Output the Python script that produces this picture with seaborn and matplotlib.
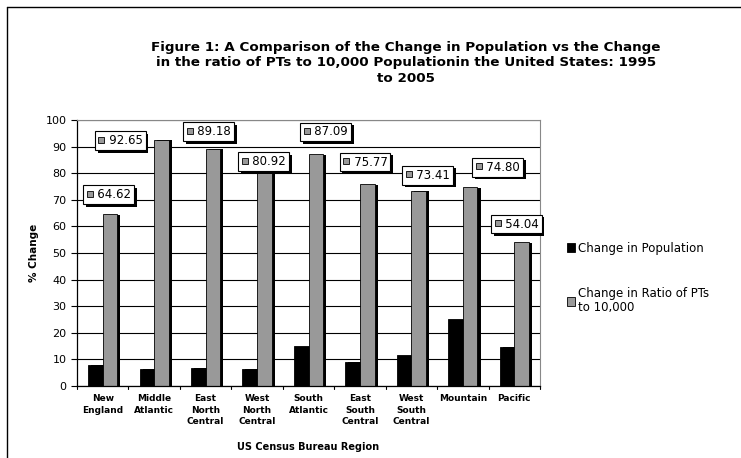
import numpy as np
import pandas as pd
import matplotlib
matplotlib.use('Agg')
import matplotlib.pyplot as plt
import matplotlib.patheffects as pe
from matplotlib.transforms import offset_copy
import seaborn as sns

regions = ['New\nEngland', 'Middle\nAtlantic', 'East\nNorth\nCentral', 'West\nNorth\nCentral',
           'South\nAtlantic', 'East\nSouth\nCentral', 'West\nSouth\nCentral', 'Mountain', 'Pacific']
pop_change = [8.0, 6.5, 6.9, 6.5, 15.1, 9.1, 11.7, 25.2, 14.8]
ratio_change = [64.62, 92.65, 89.18, 80.92, 87.09, 75.77, 73.41, 74.80, 54.04]
series_names = ['Change in Population', 'Change in Ratio of PTs\nto 10,000']

# where the data label boxes sit (category offset, y value)
label_dx = [0.11, -0.66, 0.06, 0.13, 0.33, 0.10, 0.31, 0.68, 0.04]
label_y = [72.0, 92.3, 95.7, 84.4, 95.5, 84.2, 79.3, 82.3, 60.9]

df = pd.DataFrame({
    'region': regions * 2,
    'value': pop_change + ratio_change,
    'series': [series_names[0]] * len(regions) + [series_names[1]] * len(regions),
})

sns.set_style('white')
plt.rcParams['font.family'] = ['DejaVu Sans']
plt.rcParams['text.color'] = 'black'
plt.rcParams['axes.labelcolor'] = 'black'
plt.rcParams['xtick.color'] = 'black'
plt.rcParams['ytick.color'] = 'black'

fig = plt.figure(figsize=(7.41, 4.58), dpi=100)
ax = fig.add_axes([77 / 741, 1 - 386 / 458, (540 - 77) / 741, (386 - 120) / 458])

sns.barplot(data=df, x='region', y='value', hue='series', palette=['black', '#999999'],
            width=0.57, edgecolor='black', linewidth=0.6, saturation=1, ax=ax)

shadow = [pe.SimplePatchShadow(offset=(2.2, -0.5), shadow_rgbFace='black', alpha=1), pe.Normal()]
for p in ax.patches:
    p.set_path_effects(shadow)

ax.set_ylim(0, 100)
ax.set_xlim(-0.5, len(regions) - 0.5)
ax.set_yticks(np.arange(0, 101, 10))
ax.yaxis.grid(True, color='black', linewidth=0.8)
ax.set_axisbelow(True)
ax.set_xticks(np.arange(len(regions)))
ax.set_xticklabels(regions, fontsize=6.5, fontweight='bold', linespacing=1.35)
ax.tick_params(axis='x', length=0, pad=6)
ax.tick_params(axis='y', labelsize=8, length=4, direction='out', left=True, color='black')
for pos in np.arange(-0.5, len(regions), 1):
    ax.plot([pos, pos], [0, -1.2], color='black', linewidth=0.8, clip_on=False)
for s in ['left', 'bottom']:
    ax.spines[s].set_color('black')
    ax.spines[s].set_linewidth(0.9)
for s in ['top', 'right']:
    ax.spines[s].set_color('#888888')
    ax.spines[s].set_linewidth(0.8)

ax.set_xlabel('US Census Bureau Region', fontsize=7, fontweight='bold', labelpad=11)
ax.set_ylabel('% Change', fontsize=7.5, fontweight='bold', labelpad=5)

# data labels with boxed shadow and a small gray key
for i, v in enumerate(ratio_change):
    x = i + label_dx[i]
    t = ax.text(x, label_y[i], '   %.2f' % v, ha='center', va='center', fontsize=8.5,
                bbox=dict(boxstyle='square,pad=0.25', facecolor='white', edgecolor='black', linewidth=0.8),
                zorder=6)
    t.get_bbox_patch().set_path_effects(
        [pe.SimplePatchShadow(offset=(2, -2), shadow_rgbFace='black', alpha=1), pe.Normal()])
    tr = offset_copy(ax.transData, fig=fig, x=-13.5, y=0.5, units='points')
    ax.plot([x], [label_y[i]], marker='s', markersize=5, markerfacecolor='#999999',
            markeredgecolor='black', markeredgewidth=0.6, transform=tr, zorder=7, clip_on=False)

handles, labels = ax.get_legend_handles_labels()
for h in handles:
    h.set_path_effects([])
ax.legend(handles, labels, loc='upper left', bbox_to_anchor=(556 / 741, 1 - 231 / 458),
          bbox_transform=fig.transFigure, frameon=False, fontsize=8.5,
          handlelength=0.75, handleheight=0.75, handletextpad=0.25, labelspacing=2.7)

fig.text(406 / 741, 1 - 63 / 458,
         'Figure 1: A Comparison of the Change in Population vs the Change\n'
         'in the ratio of PTs to 10,000 Populationin the United States: 1995\n'
         'to 2005', ha='center', va='center', fontsize=9.7, fontweight='bold', linespacing=1.25)

# outer border (top and left only)
fig.add_artist(plt.Line2D([7 / 741, 1], [1 - 7 / 458, 1 - 7 / 458], color='black', linewidth=1,
                          transform=fig.transFigure))
fig.add_artist(plt.Line2D([7 / 741, 7 / 741], [0, 1 - 7 / 458], color='black', linewidth=1,
                          transform=fig.transFigure))

fig.savefig('out.png', dpi=100)
